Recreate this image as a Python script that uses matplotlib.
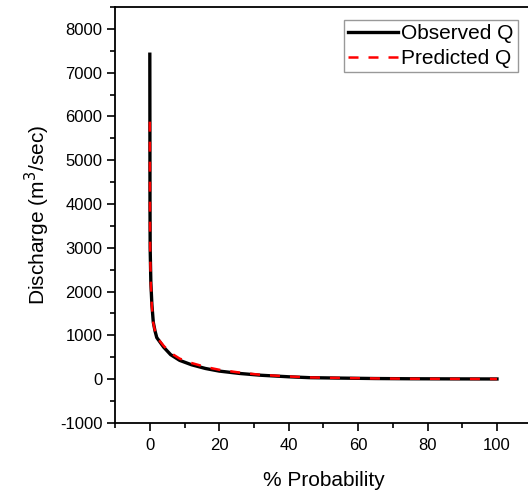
import matplotlib
matplotlib.use("Agg")
from matplotlib import pyplot as plt
from matplotlib.ticker import MultipleLocator

plt.rcParams['font.family'] = ['Liberation Sans', 'DejaVu Sans']
plt.rcParams['axes.unicode_minus'] = False

# flow duration data
prob = [0, 0.05, 0.1, 0.3, 0.6, 1, 1.5, 2, 4, 6, 8.6, 12, 16, 20, 26, 32, 40, 46, 55, 65, 75, 88, 100]
observed = [7420, 4000, 3000, 2200, 1700, 1300, 1100, 950, 730, 560, 430, 330, 245, 185, 130, 90, 55, 35, 25, 15, 10, 7, 5]
predicted = [5880, 3800, 2900, 2150, 1650, 1280, 1100, 960, 760, 600, 470, 370, 280, 215, 150, 100, 62, 40, 28, 17, 11, 8, 5]

fig = plt.figure(figsize=(5.28, 4.93), dpi=100)
ax = fig.add_axes([0.218, 0.142, 0.789, 0.844])

ax.plot(prob, observed, color='black', lw=2.4, label='Observed Q')
ax.plot(prob, predicted, color='red', lw=1.8, ls=(0, (4, 4)), label='Predicted Q')

ax.set_xlim(-10, 110)
ax.set_ylim(-1000, 8500)
ax.xaxis.set_minor_locator(MultipleLocator(10))
ax.yaxis.set_major_locator(MultipleLocator(1000))
ax.yaxis.set_minor_locator(MultipleLocator(500))
ax.set_xticks([0, 20, 40, 60, 80, 100])
ax.tick_params(which='major', direction='out', length=6, width=1.2, labelsize=12, pad=3)
ax.tick_params(axis='x', which='major', pad=5)
ax.tick_params(which='minor', direction='out', length=3.5, width=1.2)
for s in ax.spines.values():
    s.set_linewidth(1.3)
ax.spines['right'].set_visible(False)

ax.set_xlabel('% Probability', fontsize=15, labelpad=13)
ax.set_ylabel('Discharge (m$^3$/sec)', fontsize=15, labelpad=6)

leg = ax.legend(loc='upper right', bbox_to_anchor=(0.966, 0.969), fontsize=15,
                frameon=True, fancybox=False, edgecolor='gray',
                handlelength=2.4, handletextpad=0.15, borderpad=0.2,
                labelspacing=0.3, borderaxespad=0)
leg.get_frame().set_linewidth(1.0)

fig.savefig('out.png', dpi=100)
